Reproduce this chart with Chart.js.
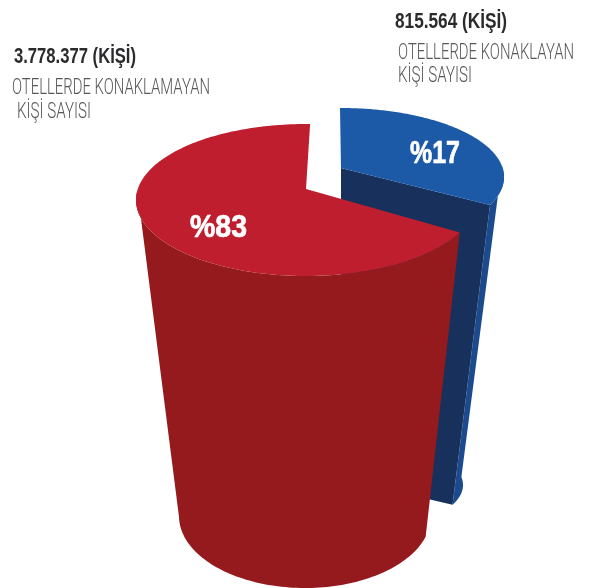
<!DOCTYPE html>
<html>
<head>
<meta charset="utf-8">
<script src="https://cdn.jsdelivr.net/npm/chart.js@4"></script>
<style>
  html, body { margin: 0; padding: 0; background: #fff; }
  canvas { display: block; }
</style>
</head>
<body>
<canvas id="myChart" width="603" height="588"></canvas>
<script>
var categories = ['OTELLERDE KONAKLAYAN', 'OTELLERDE KONAKLAMAYAN'];
var personCounts = ['815.564 (KİŞİ)', '3.778.377 (KİŞİ)'];
var shareLabels = ['%17', '%83'];
// wedge sizes as drawn in the picture (the printed shares above are 17/83, the artwork isn't to scale)
var drawnShares = [33.6, 66.4];

var topColors = ['#1c5aa8', '#be1e2d'];
var wallColors = ['#1c4a8e', '#941a1d'];
var faceColor = '#17315c';

var rad = Math.PI / 180;

// each slice is its own tilted cylinder: ellipse of the lid and of the foot
var views = [
  {
    top: { cx: 341, cy: 177, rx: 163, ry: 69, s: 0.13, rot: -2 },
    foot: { cx: 341, cy: 485, rx: 122, ry: 49, s: 0.13, rot: -2 }
  },
  {
    top: { cx: 306, cy: 200, rx: 170, ry: 76, s: 0.145, rot: 0 },
    foot: { cx: 305, cy: 516, rx: 126, ry: 72, s: 0.145, rot: -8 }
  }
];

// perspective map of the unit circle on an ellipse, the centre lands off-centre by s
function project(e, angle, r) {
  var a = angle + e.rot * rad;
  var p = r * Math.cos(a);
  var q = r * Math.sin(a);
  var w = 1 - e.s * q;
  return {
    x: e.cx + e.rx * p * Math.sqrt(1 - e.s * e.s) / w,
    y: e.cy + e.ry * (q - e.s) / w
  };
}

function fillPoly(ctx, pts, color) {
  ctx.beginPath();
  pts.forEach(function(pt, i) {
    if (i === 0) ctx.moveTo(pt.x, pt.y);
    else ctx.lineTo(pt.x, pt.y);
  });
  ctx.closePath();
  ctx.fillStyle = color;
  ctx.fill();
}

function drawSlice(ctx, arc, i) {
  var v = views[i];
  var steps = 160;
  var d = (arc.endAngle - arc.startAngle) / steps;

  // outer wall, front half only: lid rim forward, foot rim back
  var rimTop = [];
  var rimFoot = [];
  for (var k = 0; k <= steps; k++) {
    var a = arc.startAngle + d * k;
    if (Math.sin(a) < 0) continue;
    rimTop.push(project(v.top, a, 1));
    rimFoot.unshift(project(v.foot, a, 1));
  }
  fillPoly(ctx, rimTop.concat(rimFoot), wallColors[i]);

  // the cut side that looks at the viewer (blue only, the red one faces away)
  if (i === 0) {
    fillPoly(ctx, [
      project(v.top, 0, 0), project(v.top, arc.endAngle, 1),
      project(v.foot, arc.endAngle, 1), project(v.foot, 0, 0)
    ], faceColor);
  }

  // lid
  var lid = [project(v.top, 0, 0)];
  for (var n = 0; n <= steps; n++) {
    lid.push(project(v.top, arc.startAngle + d * n, 1));
  }
  fillPoly(ctx, lid, topColors[i]);
}

var cylinderPlugin = {
  id: 'cylinder',
  beforeDatasetDraw: function(chart) {
    var ctx = chart.ctx;
    ctx.save();
    chart.getDatasetMeta(0).data.forEach(function(arc, i) {
      drawSlice(ctx, arc.getProps(['startAngle', 'endAngle'], true), i);
    });
    ctx.restore();
    return false;
  },
  afterDraw: function(chart) {
    var ctx = chart.ctx;
    var boldFont = 'bold 22px "Liberation Sans Narrow", "Liberation Sans"';
    var thinFont = '300 22px Roboto';
    ctx.save();
    ctx.textBaseline = 'alphabetic';
    ctx.textAlign = 'left';

    ctx.fillStyle = '#2b2b2d';
    ctx.font = boldFont;
    ctx.fillText(personCounts[0], 395, 28, 112);
    ctx.fillText(personCounts[1], 14, 63, 122);

    ctx.fillStyle = '#58585a';
    ctx.font = thinFont;
    ctx.fillText(categories[0], 398, 59, 176);
    ctx.fillText('KİŞİ SAYISI', 398, 82, 74);
    ctx.fillText(categories[1], 12, 94, 198);
    ctx.fillText('KİŞİ SAYISI', 17, 118, 74);

    // white shares, a thin stroke makes the narrow bold as heavy as the original
    ctx.fillStyle = '#fff';
    ctx.strokeStyle = '#fff';
    ctx.lineWidth = 0.7;
    ctx.font = 'bold 32px "Liberation Sans Narrow", "Liberation Sans"';
    ctx.fillText(shareLabels[0], 410, 163, 50);
    ctx.strokeText(shareLabels[0], 410, 163, 50);
    ctx.fillText(shareLabels[1], 190, 237, 57);
    ctx.strokeText(shareLabels[1], 190, 237, 57);
    ctx.restore();
  }
};

var ctx = document.getElementById('myChart').getContext('2d');
var chart = new Chart(ctx, {
  type: 'pie',
  data: {
    labels: categories,
    datasets: [{
      data: drawnShares,
      backgroundColor: topColors,
      borderWidth: 0
    }]
  },
  options: {
    responsive: false,
    animation: false,
    rotation: 1.6,
    plugins: {
      legend: { display: false },
      tooltip: { enabled: false }
    }
  },
  plugins: [cylinderPlugin]
});
</script>
</body>
</html>
